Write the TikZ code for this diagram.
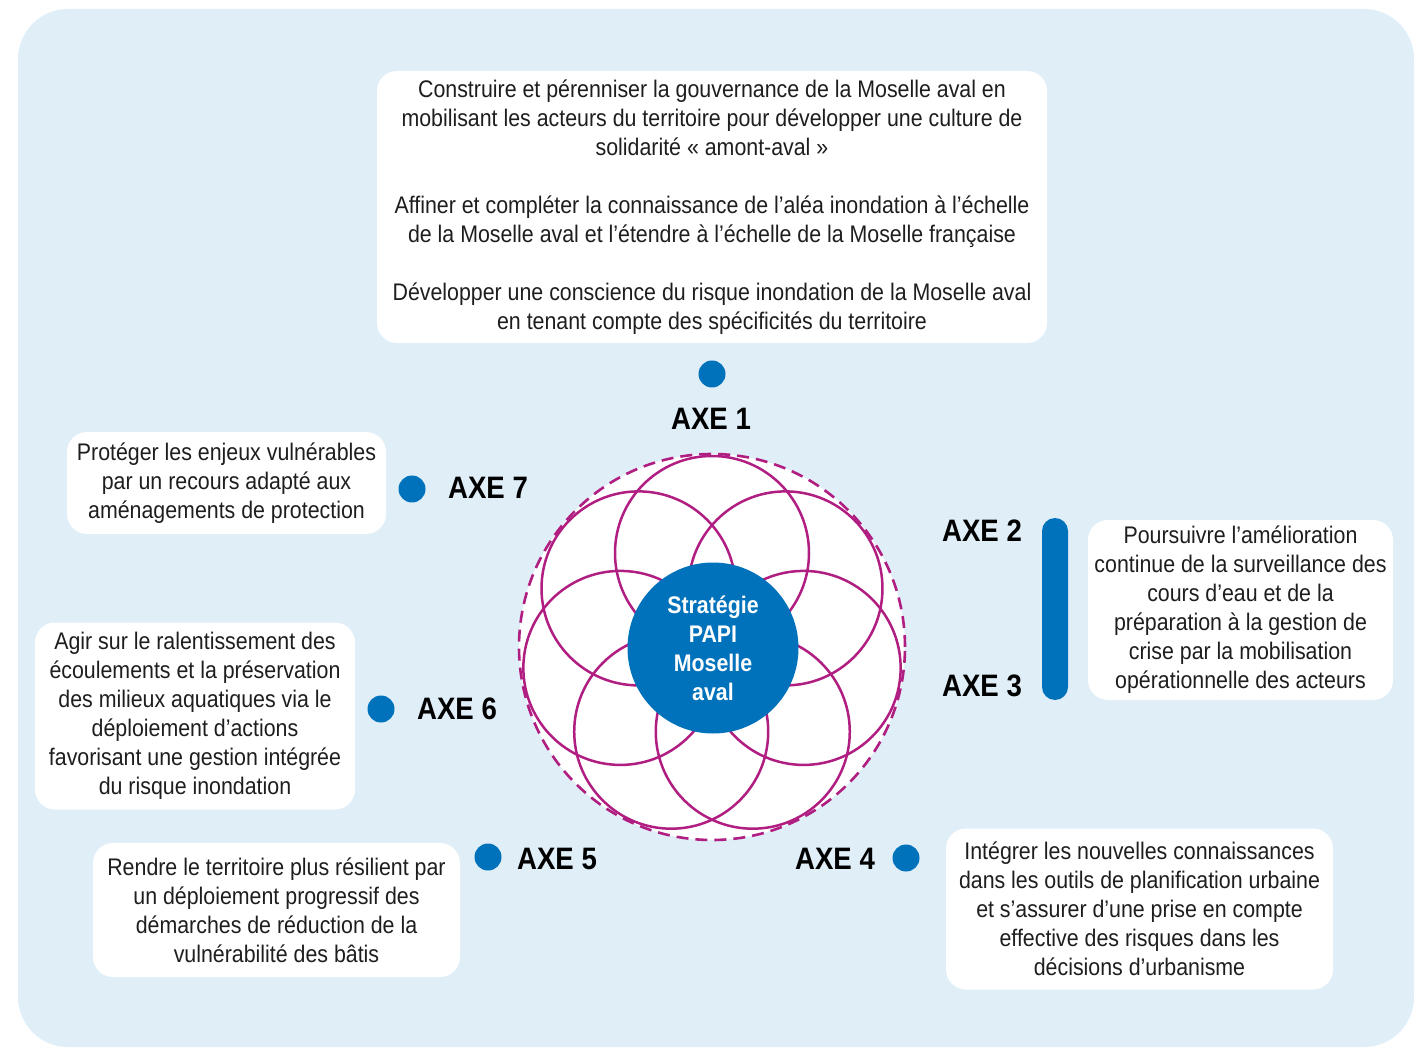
\documentclass[tikz,border=0pt]{standalone}
\usepackage{fontspec}
\setmainfont{Liberation Sans}[FakeStretch=0.89]
\definecolor{bgblue}{RGB}{224,238,248}
\definecolor{axblue}{RGB}{0,114,187}
\definecolor{petal}{RGB}{176,30,130}
\definecolor{txt}{RGB}{30,30,30}
\tikzset{
  txtbox/.style={fill=white, rounded corners=10pt, align=center, inner sep=0pt,
    font=\fontsize{12}{14.5}\selectfont, text=txt},
  axelabel/.style={font=\bfseries\fontsize{15.5}{18}\selectfont, text=black, inner sep=0pt},
  axedot/.style={circle, fill=axblue, minimum size=13.5pt, inner sep=0pt},
  petalline/.style={draw=petal, line width=1.25pt},
}
\begin{document}
\begin{tikzpicture}[x=0.5pt,y=-0.5pt]
\useasboundingbox (0,0) rectangle (1426,1048);
\fill[bgblue, rounded corners=25pt] (18,9) rectangle (1414,1047);

% top box (AXE 1)
\node[txtbox, minimum width=335pt, minimum height=136pt] (b1) at (712,207)
 {Construire et pérenniser la gouvernance de la Moselle aval en\\
  mobilisant les acteurs du territoire pour développer une culture de\\
  solidarité « amont-aval »\\[14.5pt]
  Affiner et compléter la connaissance de l’aléa inondation à l’échelle\\
  de la Moselle aval et l’étendre à l’échelle de la Moselle française\\[14.5pt]
  Développer une conscience du risque inondation de la Moselle aval\\
  en tenant compte des spécificités du territoire};

\node[txtbox, minimum width=159.5pt, minimum height=51pt] (b7) at (226.5,483)
 {Protéger les enjeux vulnérables\\ par un recours adapté aux\\ aménagements de protection};

\node[txtbox, minimum width=160pt, minimum height=93.5pt] (b6) at (195,716)
 {Agir sur le ralentissement des\\ écoulements et la préservation\\ des milieux aquatiques via le\\
  déploiement d’actions\\ favorisant une gestion intégrée\\ du risque inondation};

\node[txtbox, minimum width=183.5pt, minimum height=67pt] (b5) at (276.5,910)
 {Rendre le territoire plus résilient par\\ un déploiement progressif des\\
  démarches de réduction de la\\ vulnérabilité des bâtis};

\node[txtbox, minimum width=193.5pt, minimum height=80.5pt] (b4) at (1139.5,909)
 {Intégrer les nouvelles connaissances\\ dans les outils de planification urbaine\\
  et s’assurer d’une prise en compte\\ effective des risques dans les\\ décisions d’urbanisme};

\node[txtbox, minimum width=152.5pt, minimum height=90pt] (b23) at (1240.5,610)
 {Poursuivre l’amélioration\\ continue de la surveillance des\\ cours d’eau et de la\\
  préparation à la gestion de\\ crise par la mobilisation\\ opérationnelle des acteurs};

% flower
\fill[white] (712,647) circle[radius=96.5pt];
\foreach \k in {0,...,6}{
  \draw[petalline] ({712+94*cos(90+\k*360/7)},{647-94*sin(90+\k*360/7)}) circle[radius=48.5pt];
}
\draw[draw=petal, line width=1.3pt, dash pattern=on 6pt off 3.5pt] (712,647) circle[radius=96.5pt];
\node[circle, fill=axblue, minimum size=85.5pt, inner sep=0pt, align=center,
  text=white, font=\bfseries\fontsize{12}{14.5}\selectfont] (c) at (713,648)
  {Stratégie\\ PAPI\\ Moselle\\ aval};

% axes
\node[axedot] (d1) at (712,374) {};
\node[axelabel] (a1) at (711,419) {AXE 1};
\node[axedot] (d7) at (412,489) {};
\node[axelabel] (a7) at (488,488) {AXE 7};
\node[axedot] (d6) at (381,709) {};
\node[axelabel] (a6) at (457,709) {AXE 6};
\node[axedot] (d5) at (488,857) {};
\node[axelabel] (a5) at (557,859) {AXE 5};
\node[axedot] (d4) at (906,858) {};
\node[axelabel] (a4) at (835,859) {AXE 4};
\node[axelabel] (a2) at (982,531) {AXE 2};
\node[axelabel] (a3) at (982,686) {AXE 3};
\fill[axblue, rounded corners=6.5pt] (1042,518) rectangle (1068,700);
\end{tikzpicture}
\end{document}
